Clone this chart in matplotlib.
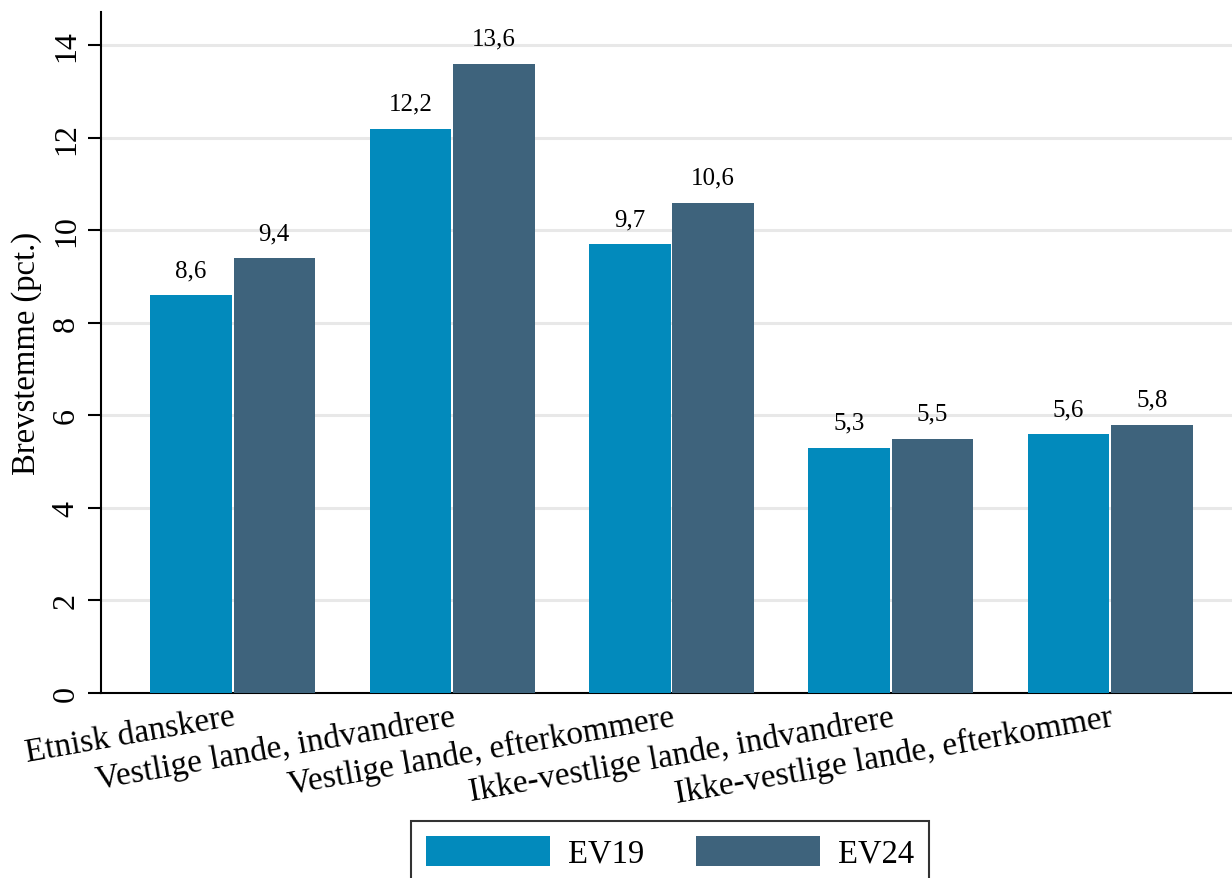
import matplotlib
matplotlib.use("Agg")
import matplotlib.pyplot as plt
from matplotlib.patches import Rectangle
from matplotlib.legend_handler import HandlerPatch
import numpy as np

groups = ["Etnisk danskere", "Vestlige lande, indvandrere", "Vestlige lande, efterkommere",
          "Ikke-vestlige lande, indvandrere", "Ikke-vestlige lande, efterkommer"]
ev19 = [8.6, 12.2, 9.7, 5.3, 5.6]
ev24 = [9.4, 13.6, 10.6, 5.5, 5.8]
series_names = ["EV19", "EV24"]
yticks = [0, 2, 4, 6, 8, 10, 12, 14]

plt.rcParams["font.family"] = ["Liberation Serif", "DejaVu Serif"]

c19 = "#028abc"
c24 = "#3e637c"


def legend_box(legend, orig_handle, xdescent, ydescent, width, height, fontsize):
    # rectangle centred on the text instead of sitting on the baseline
    h = 1.06 * fontsize
    return Rectangle((-xdescent, 0.33 * fontsize - h / 2), width, h)


fig = plt.figure(figsize=(12.32, 8.79), dpi=100)
ax = fig.add_axes([101/1232, 185/879, 1131/1232, 681/879])

x = np.arange(len(groups))
w = 0.372
b1 = ax.bar(x - 0.19, ev19, w, color=c19, label=series_names[0], zorder=3)
b2 = ax.bar(x + 0.19, ev24, w, color=c24, label=series_names[1], zorder=3)

for bars, vals in [(b1, ev19), (b2, ev24)]:
    for r, v in zip(bars, vals):
        ax.text(r.get_x() + r.get_width()/2, v + 0.3, f"{v:.1f}".replace(".", ","),
                ha="center", va="bottom", fontsize=18)

ax.set_xlim(-0.6, 4.555)
ax.set_ylim(0, 14.72)
ax.set_yticks(yticks)
ax.set_yticklabels([str(t) for t in yticks], rotation=90, va="center", fontsize=23)
for t in yticks[1:]:
    ax.axhline(t, color="#e8e8e8", lw=2.2, zorder=1)

ax.set_xticks(x)
ax.set_xticklabels(groups, rotation=10, ha="right", rotation_mode="anchor", fontsize=24)
ax.tick_params(axis="x", length=0, pad=6)
ax.tick_params(axis="y", length=9.5, width=1.5, pad=5)
ax.set_ylabel("Brevstemme (pct.)", fontsize=23.5)
ax.yaxis.set_label_coords(-0.052, 0.5)

for s in ["top", "right"]:
    ax.spines[s].set_visible(False)
ax.spines["left"].set_linewidth(1.5)
ax.spines["bottom"].set_linewidth(1.5)

leg = fig.legend(loc="upper left", bbox_to_anchor=(411/1232, 1 - 822/879), ncol=2,
                 fontsize=23.5, frameon=True, fancybox=False, edgecolor="black",
                 handlelength=3.8, handleheight=1.04, columnspacing=1.6, handletextpad=0.55,
                 borderpad=0.45, borderaxespad=0,
                 handler_map={Rectangle: HandlerPatch(patch_func=legend_box)})
leg.get_frame().set_linewidth(1.5)

fig.savefig("out.png", dpi=100)
